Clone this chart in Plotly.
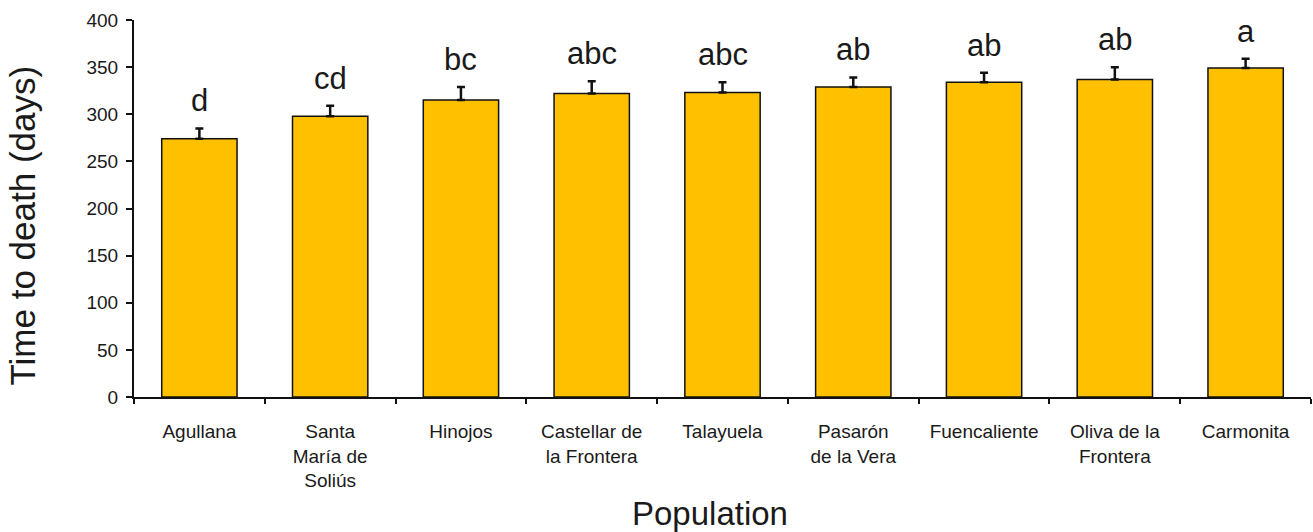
import plotly.graph_objects as go

populations = [
    "Agullana",
    "Santa<br>María de<br>Soliús",
    "Hinojos",
    "Castellar de<br>la Frontera",
    "Talayuela",
    "Pasarón<br>de la Vera",
    "Fuencaliente",
    "Oliva de la<br>Frontera",
    "Carmonita",
]
days = [274, 298, 315, 322, 323, 329, 334, 337, 349]
sem = [11, 11, 14, 13, 11, 10, 10, 13, 10]
groups = ["d", "cd", "bc", "abc", "abc", "ab", "ab", "ab", "a"]
y_ticks = [0, 50, 100, 150, 200, 250, 300, 350, 400]

FONT = "Liberation Sans, Arial, sans-serif"
INK = "#1a1a1a"

fig = go.Figure(
    go.Bar(
        x=populations,
        y=days,
        marker=dict(color="#FFC000", line=dict(color="#111111", width=1.5)),
        error_y=dict(
            type="data",
            symmetric=False,
            array=sem,
            arrayminus=[0] * len(sem),
            color="#111111",
            thickness=2.5,
            width=4,
        ),
        width=0.576,
    )
)

# significance letters above each error bar
for pop, d, e, g in zip(populations, days, sem, groups):
    fig.add_annotation(
        x=pop, y=d + e, text=g, showarrow=False,
        xanchor="center", yanchor="bottom", yshift=8,
        font=dict(family=FONT, size=31, color=INK),
    )

# axis titles
fig.add_annotation(
    xref="paper", yref="paper", x=(710 - 134) / 1177, y=(397 - 513) / 377,
    text="Population", showarrow=False, xanchor="center", yanchor="middle",
    font=dict(family=FONT, size=33, color=INK),
)
fig.add_annotation(
    xref="paper", yref="paper", x=(21.5 - 134) / 1177, y=(397 - 226) / 377,
    text="Time to death (days)", showarrow=False, textangle=-90,
    xanchor="center", yanchor="middle",
    font=dict(family=FONT, size=35, color=INK),
)

fig.update_layout(
    width=1313,
    height=532,
    margin=dict(l=134, r=2, t=20, b=135),
    paper_bgcolor="white",
    plot_bgcolor="white",
    showlegend=False,
    font=dict(family=FONT, color=INK),
    xaxis=dict(
        showline=True, linecolor="#111111", linewidth=2,
        ticks="outside", tickson="boundaries", ticklen=5, tickwidth=2,
        tickcolor="#111111", showgrid=False,
        tickfont=dict(family=FONT, size=19, color=INK),
        ticklabelstandoff=16,
    ),
    yaxis=dict(
        range=[0, 400], tickvals=y_ticks,
        showline=True, linecolor="#111111", linewidth=2,
        ticks="outside", ticklen=6, tickwidth=2, tickcolor="#111111",
        showgrid=False, zeroline=False,
        tickfont=dict(family=FONT, size=19, color=INK),
        ticklabelstandoff=4,
    ),
)

fig.write_html("out.html")
